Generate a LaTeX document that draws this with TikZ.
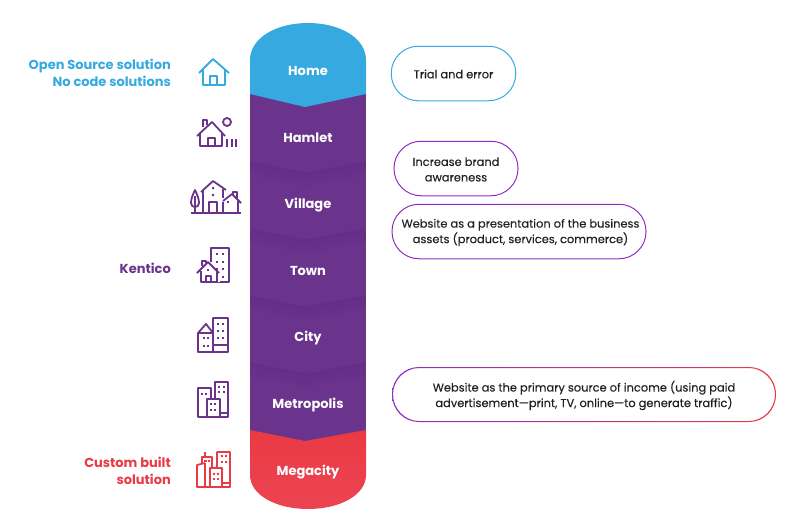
\documentclass[tikz,border=0pt]{standalone}
\usepackage{fontspec}
\setmainfont{Poppins}
\newfontfamily\pillfont[FakeBold=0.2]{Poppins}
\usetikzlibrary{calc}
\definecolor{cblue}{HTML}{36A9E1}
\definecolor{cpurple}{HTML}{6A348D}
\definecolor{cdeep}{HTML}{632D89}
\definecolor{cred}{HTML}{EA3A44}
\definecolor{credlow}{HTML}{EC4452}
\definecolor{cpill}{HTML}{8E2FC0}
\definecolor{ctext}{HTML}{231F20}
\tikzset{
  x=1pt,y=-1pt,
  band/.style={font=\fontsize{13}{15}\selectfont\bfseries,text=white,inner sep=0pt},
  sidelabel/.style={font=\fontsize{13}{17}\selectfont\bfseries,align=right,anchor=east,inner sep=0pt},
  pill/.style={draw,line width=1pt,rounded corners=27pt,minimum height=54.5pt,inner sep=0pt,
     text=ctext,align=center,font=\pillfont\fontsize{11.4}{15.5}\selectfont},
  pilltext/.style={inner sep=0pt,text=ctext,align=center,font=\pillfont\fontsize{11.4}{15.5}\selectfont},
  ico/.style={line width=1.8pt,line join=round,line cap=butt,fill=none},
}
\newcommand{\win}[3]{\fill[#1] ($(#2,#3)+(-1.2,-1.3)$) rectangle ($(#2,#3)+(1.2,1.3)$);}
\begin{document}
\begin{tikzpicture}
\useasboundingbox (0,0) rectangle (800,530);
% column
\fill[cpurple] (250,90) rectangle (366,445);
\foreach \yy in {162,229,296,363}{
  \foreach \st in {16,14,12,10,8,6,4,2}{
    \pgfmathsetmacro{\pc}{100-\st*6}
    \fill[cdeep!\pc!cpurple]
      (250.6,\yy) -- (305,\yy+11) -- (365.4,\yy) -- (365.4,\yy+\st) -- (305,\yy+11+\st) -- (250.6,\yy+\st) -- cycle;
  }
}
\shade[top color=cred,bottom color=credlow] (250,430) -- (305,441) -- (366,430) -- (366,475)
   .. controls (366,495) and (340,509) .. (308,509)
   .. controls (276,509) and (250,495) .. (250,475) -- cycle;
\fill[cblue] (250,94) -- (305,107) -- (366,94) -- (366,60)
   .. controls (366,38) and (340,23) .. (308,23)
   .. controls (276,23) and (250,38) .. (250,60) -- cycle;
% band labels
\node[band] (home) at (308,71) {Home};
\node[band] (hamlet) at (308,138) {Hamlet};
\node[band] (village) at (308,205) {Village};
\node[band] (town) at (308,271) {Town};
\node[band] (city) at (308,338) {City};
\node[band] (metropolis) at (308,405) {Metropolis};
\node[band] (megacity) at (308,472) {Megacity};
% side labels
\node[sidelabel,text=cblue] (open) at (171,72.5) {Open Source solution\\No code solutions};
\node[sidelabel,text=cpurple] (kentico) at (171,268) {Kentico};
\node[sidelabel,text=cred] (custom) at (171,470.5) {Custom built\\solution};
% pills
\node[pill,draw=cblue,minimum width=124.5pt] (trial) at (453.5,73.5) {};
\node[pilltext] (trialtext) at (453.5,74) {Trial and error};
\node[pill,draw=cpill,minimum width=124pt] (brand) at (456,168.5) {};
\node[pilltext] (brandtext) at (456,169.5) {Increase brand\\awareness};
\node[pill,draw=cpill,minimum width=254pt] (assets) at (519,231.5) {};
\node[pilltext] (assetstext) at (520.5,232.5) {Website as a presentation of the business\\assets (product, services, commerce)};
\shade[even odd rule,left color=cpill,right color=cred]
  (392,394.5) .. controls (392,379) and (404,367) .. (419,367) -- (749,367)
   .. controls (764,367) and (776,379) .. (776,394.5) .. controls (776,410) and (764,422) .. (749,422)
   -- (419,422) .. controls (404,422) and (392,410) .. (392,394.5) -- cycle
  (393,394.5) .. controls (393,380) and (405,368) .. (419,368) -- (749,368)
   .. controls (763,368) and (775,380) .. (775,394.5) .. controls (775,409) and (763,421) .. (749,421)
   -- (419,421) .. controls (405,421) and (393,409) .. (393,394.5) -- cycle;
\node[pilltext] (income) at (584,395.5)
  {Website as the primary source of income (using paid\\advertisement—print, TV, online—to generate traffic)};
% home icon
\begin{scope}[ico,draw=cblue]
\draw (199,73) -- (213,59) -- (229,73);
\draw (203,70) -- (203,85) -- (225,85) -- (225,70);
\draw (210,85) -- (210,76) -- (217,76) -- (217,85);
\end{scope}
% hamlet icon
\begin{scope}[ico,draw=cpurple]
\draw (197,136) -- (212,122) -- (225,136);
\draw (203,127) -- (203,120) -- (207,120) -- (207,125);
\draw (200,133) -- (200,146) -- (222,146) -- (222,133);
\draw (208,146) -- (208,138) -- (215,138) -- (215,146);
\draw (227,122) circle (4);
\draw (227,139) -- (227,147) (232,139) -- (232,147) (236,139) -- (236,147);
\end{scope}
% village icon
\begin{scope}[ico,draw=cpurple]
\draw (191,213) -- (241,213);
\draw (195,190) .. controls (192,196) and (191,200) .. (191,203) .. controls (191,206) and (193,207) .. (195,207) .. controls (197,207) and (199,206) .. (199,203) .. controls (199,200) and (198,196) .. (195,190) -- cycle;
\draw (195,196) -- (195,213);
\draw (201,192) -- (213,181) -- (226,190);
\draw (203,190) -- (203,213) (223,189) -- (223,198);
\draw (209,213) -- (209,202) -- (217,202) -- (217,213);
\fill[cpurple] (212,187) rectangle (214,189) (212,194) rectangle (214,196);
\draw (223,201) -- (232,194) -- (241,203);
\draw (233,194) -- (233,192) -- (237,192) -- (237,198);
\draw (238,201) -- (238,213) (223,202) -- (223,213);
\fill[cpurple] (227,201) rectangle (229,203);
\end{scope}
% town icon
\begin{scope}[ico,draw=cpurple]
\draw (211,262) -- (211,248) -- (229,248) -- (229,282) -- (217,282);
\foreach \wy in {254,262,269,277}{\win{cpurple}{217}{\wy}\win{cpurple}{223}{\wy}}
\fill[white] (215,272) rectangle (220,282);
\win{cpurple}{223}{277}
\draw (197,273) -- (208,262) -- (219,273);
\draw (202,266) -- (202,261) -- (206,261) -- (206,263);
\draw (201,271) -- (201,282) -- (217,282) -- (217,271);
\draw (206,282) -- (206,276) -- (211,276) -- (211,282);
\win{cpurple}{208}{270}
\end{scope}
% city icon
\begin{scope}[ico,draw=cpurple]
\draw (213,333) -- (213,318) -- (228,318) -- (228,352) -- (198,352) -- (198,333) -- (206,324) -- (213,333) -- (213,352);
\draw (198,333) -- (213,333);
\draw (213,345) -- (228,345);
\foreach \wy in {324,331,338}{\win{cpurple}{218}{\wy}\win{cpurple}{223}{\wy}}
\foreach \wy in {338,346}{\win{cpurple}{204}{\wy}\win{cpurple}{208}{\wy}}
\end{scope}
% metropolis icon
\begin{scope}[ico,draw=cpurple]
\draw (215,399) -- (215,382) -- (228,382) -- (228,417) -- (198,417) -- (198,388) -- (211,388) -- (211,399);
\draw (207,417) -- (207,399) -- (220,399) -- (220,417);
\draw (220,413) -- (228,413);
\win{cpurple}{219}{387}\win{cpurple}{224}{387}\win{cpurple}{219}{392}\win{cpurple}{224}{392}
\win{cpurple}{202}{394}\win{cpurple}{206}{394}
\win{cpurple}{211}{404}\win{cpurple}{215}{404}\win{cpurple}{211}{410}\win{cpurple}{215}{410}
\end{scope}
% megacity icon
\begin{scope}[ico,draw=cred]
\draw (217,468) -- (217,452) -- (230,452) -- (230,487) -- (197,487) -- (197,465) -- (205,463);
\draw (205,487) -- (205,463) (202,463) -- (202,457) -- (212,457) -- (212,468);
\draw (205,457) -- (205,452);
\draw (210,487) -- (210,468) -- (222,468) -- (222,487);
\draw (222,483) -- (230,483);
\win{cred}{222}{456}\win{cred}{226}{456}\win{cred}{222}{462}\win{cred}{226}{462}
\win{cred}{205.5}{461}\win{cred}{209}{461}
\win{cred}{214}{474}\win{cred}{218}{474}\win{cred}{214}{479}\win{cred}{218}{479}
\end{scope}
\end{tikzpicture}
\end{document}
